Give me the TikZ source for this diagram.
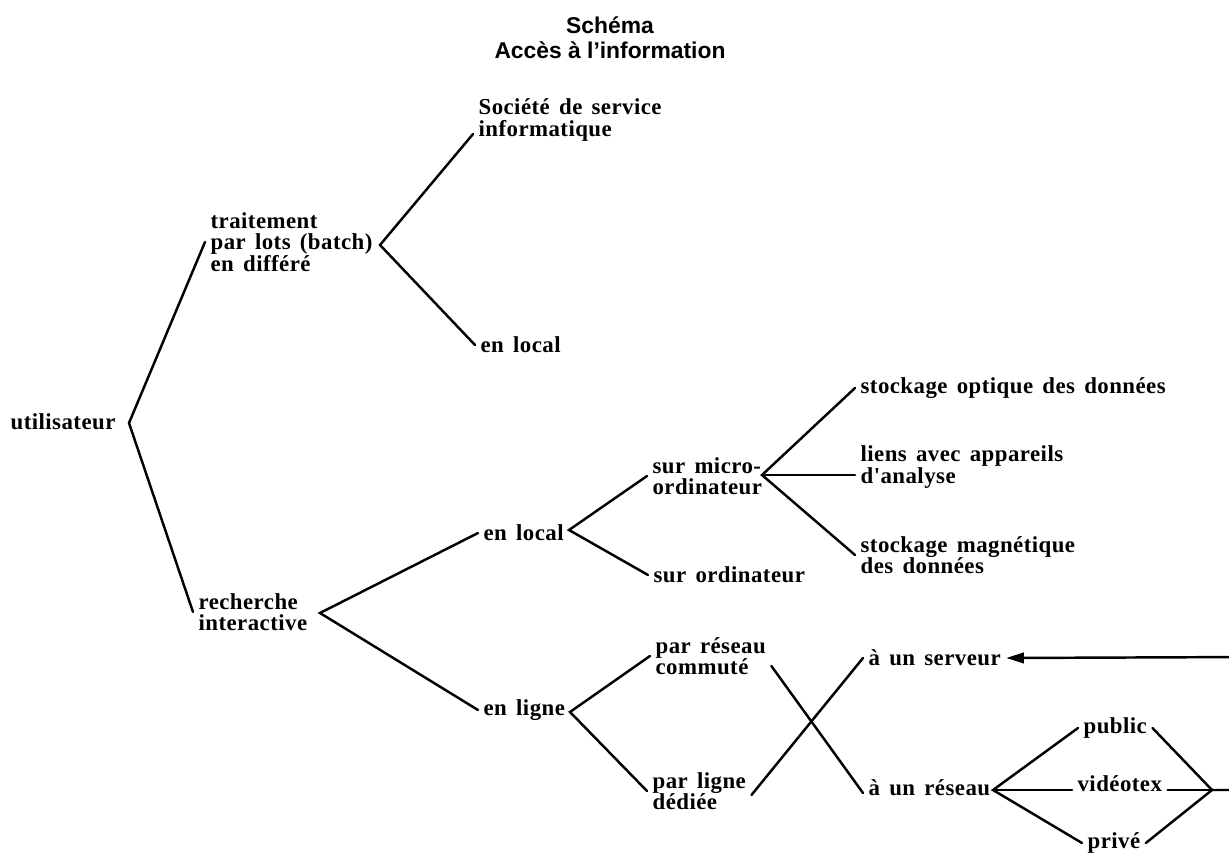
\documentclass[tikz,border=0pt]{standalone}
\usepackage{fontspec}
\setmainfont{Liberation Serif}
\newfontfamily\lblfont{Liberation Serif}[LetterSpace=2,WordSpace=1.5]
\newfontfamily\ttlfont{Liberation Sans}
\usetikzlibrary{arrows.meta,calc}

\begin{document}
\begin{tikzpicture}[x=0.02cm,y=-0.02cm,
    lbl/.style={anchor=west,inner sep=3pt,align=left,
      font=\lblfont\bfseries\fontsize{13}{12.2}\selectfont},
    branch/.style={line width=1.4pt,line cap=round}]
  \useasboundingbox (0,0) rectangle (1229,855);
  \clip (0,0) rectangle (1229,855);

  % title
  \node[font=\ttlfont\bfseries\fontsize{13}{14.2}\selectfont,align=center]
    (title) at (610,38) {Schéma\\Accès à l’information};

  % labels
  \node[lbl] (util)    at (5,422)    {utilisateur};
  \node[lbl] (trait)   at (205,242)  {traitement\\par lots (batch)\\en différé};
  \node[lbl] (societe) at (473,120)  {Société de service\\informatique};
  \node[lbl] (enlocA)  at (475,345)  {en local};
  \node[lbl] (rech)    at (193,612)  {recherche\\interactive};
  \node[lbl] (enlocB)  at (478,533)  {en local};
  \node[lbl] (micro)   at (647,476)  {sur micro-\\ordinateur};
  \node[lbl] (surord)  at (648,575)  {sur ordinateur};
  \node[lbl] (optique) at (855,388)  {stockage optique des données};
  \node[lbl] (liens)   at (855,467)  {liens avec appareils\\d'analyse};
  \node[lbl] (magn)    at (855,555)  {stockage magnétique\\des données};
  \node[lbl] (enligne) at (478,710)  {en ligne};
  \node[lbl] (commute) at (650,656)  {par réseau\\commuté};
  \node[lbl] (dediee)  at (647,791)  {par ligne\\dédiée};
  \node[lbl] (serveur) at (863,658)  {à un serveur};
  \node[lbl] (reseau)  at (863,788)  {à un réseau};
  \node[lbl] (public)  at (1078,728) {public};
  \node[lbl] (video)   at (1072,784) {vidéotex};
  \node[lbl] (prive)   at (1082,843) {privé};

  % branching points
  \coordinate (vU)  at (129,423);
  \coordinate (vT)  at (380,245);
  \coordinate (vR)  at (320,613);
  \coordinate (vL)  at (569,530);
  \coordinate (vM)  at (762,475);
  \coordinate (vLi) at (570,712);
  \coordinate (vRe) at (993,790);
  \coordinate (vV)  at (1212,790);

  \draw[branch] (trait.west) -- (vU) -- (rech.west);
  \draw[branch] ([yshift=-8pt]societe.west) -- (vT) -- (enlocA.west);
  \draw[branch] (enlocB.west) -- (vR) -- (enligne.west);
  \draw[branch] (micro.west) -- (vL) -- (surord.west);
  \draw[branch] (optique.west) -- (vM) -- (magn.west);
  \draw[branch] (vM) -- (vM -| liens.west);
  \draw[branch] (commute.west) -- (vLi) -- (dediee.west);
  % crossing links
  \draw[branch] ([yshift=-0.2cm]commute.east) -- ([yshift=-0.1cm]reseau.west);
  \draw[branch] ([yshift=-0.08cm]dediee.east) -- (serveur.west);
  % networks
  \draw[branch] (public.west) -- (vRe) -- (prive.west);
  \draw[branch] (vRe) -- (vRe -| video.west);
  \draw[branch] (public.east) -- (vV) -- (prive.east);
  \draw[branch] (video.east |- vV) -- (vV);
  \draw[branch,-{Triangle[length=10pt,width=6pt]}]
    (vV) -- (1250,790) -- (1250,657) -- (serveur.east);
\end{tikzpicture}
\end{document}
